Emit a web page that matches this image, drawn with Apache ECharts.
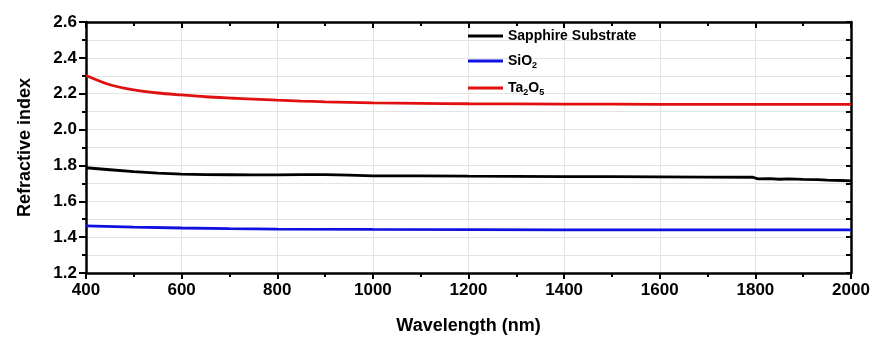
<!DOCTYPE html>
<html>
<head>
<meta charset="utf-8">
<script src="https://cdn.jsdelivr.net/npm/echarts@6/dist/echarts.min.js"></script>
<style>
  html, body { margin: 0; padding: 0; background: #fff; }
  #chart { width: 874px; height: 340px; }
</style>
</head>
<body>
<div id="chart"></div>
<script>
// sapphire substrate (black)
const sapphireWl = [400, 450, 500, 550, 600, 650, 700, 750, 800, 850, 900, 950, 1000, 1050, 1100, 1200, 1300, 1400, 1500, 1600, 1700, 1795, 1805, 1830, 1850, 1870, 1900, 1930, 1950, 1980, 2000];
const sapphireN = [1.787, 1.776, 1.765, 1.757, 1.752, 1.749, 1.748, 1.747, 1.747, 1.749, 1.749, 1.746, 1.742, 1.742, 1.742, 1.740, 1.739, 1.738, 1.737, 1.736, 1.735, 1.734, 1.725, 1.726, 1.723, 1.725, 1.722, 1.721, 1.718, 1.716, 1.714];

// SiO2 (blue)
const sio2Wl = [400, 500, 600, 700, 800, 1000, 1200, 1400, 1600, 1800, 2000];
const sio2N = [1.463, 1.456, 1.451, 1.447, 1.445, 1.443, 1.442, 1.441, 1.441, 1.440, 1.440];

// Ta2O5 (red)
const ta2o5Wl = [400, 450, 500, 550, 600, 650, 700, 750, 800, 850, 900, 1000, 1100, 1200, 1400, 1600, 1800, 2000];
const ta2o5N = [2.302, 2.250, 2.221, 2.204, 2.193, 2.183, 2.176, 2.170, 2.164, 2.159, 2.155, 2.149, 2.146, 2.144, 2.142, 2.141, 2.140, 2.140];

const FONT = "'Liberation Sans', Arial, sans-serif";

const pairs = (xs, ys) => xs.map((x, i) => [x, ys[i]]);

const chartDom = document.getElementById("chart");
const myChart = echarts.init(chartDom, null, { renderer: "canvas" });

const axisLine = { show: true, onZero: false, lineStyle: { color: "#000", width: 2.5 } };
const gridLine = { show: true, lineStyle: { color: "#e4e4e4", width: 1 } };

const option = {
  animation: false,
  backgroundColor: "#fff",
  grid: { left: 86, right: 23, top: 22, bottom: 66 },
  legend: {
    orient: "vertical",
    left: 468,
    top: 29,
    padding: 0,
    itemGap: 11,
    itemWidth: 35,
    itemHeight: 3,
    icon: "rect",
    data: ["Sapphire Substrate", "SiO2", "Ta2O5"],
    formatter: (name) => {
      if (name === "SiO2") return "{b|SiO}{s|2}";
      if (name === "Ta2O5") return "{b|Ta}{s|2}{b|O}{s|5}";
      return "{b|" + name + "}";
    },
    textStyle: {
      rich: {
        b: { fontFamily: FONT, fontWeight: "bold", fontSize: 14, color: "#000" },
        s: { fontFamily: FONT, fontWeight: "bold", fontSize: 9, color: "#000", padding: [9, 0, 0, 0] },
      },
    },
  },
  xAxis: [
    {
      type: "value",
      position: "bottom",
      min: 400,
      max: 2000,
      interval: 200,
      name: "Wavelength (nm)",
      nameLocation: "middle",
      nameGap: 44,
      nameTextStyle: { fontFamily: FONT, fontWeight: "bold", fontSize: 18, color: "#000" },
      axisLine: axisLine,
      axisTick: { show: true, inside: false, length: 6, lineStyle: { color: "#000", width: 2 } },
      minorTick: { show: true, splitNumber: 2, length: 4, lineStyle: { color: "#000", width: 2 } },
      axisLabel: {
        fontFamily: FONT, fontWeight: "bold", fontSize: 17, color: "#000", margin: 9,
        formatter: (v) => String(v),
      },
      splitLine: gridLine,
    },
    {
      type: "value",
      position: "top",
      min: 400,
      max: 2000,
      interval: 200,
      axisLine: axisLine,
      axisTick: { show: true, inside: true, length: 6, lineStyle: { color: "#000", width: 2 } },
      minorTick: { show: true, splitNumber: 2, length: 4, lineStyle: { color: "#000", width: 2 } },
      axisLabel: { show: false },
      splitLine: { show: false },
    },
  ],
  yAxis: [
    {
      type: "value",
      position: "left",
      min: 1.2,
      max: 2.6,
      interval: 0.2,
      name: "Refractive index",
      nameLocation: "middle",
      nameGap: 52,
      nameTextStyle: { fontFamily: FONT, fontWeight: "bold", fontSize: 18, color: "#000" },
      axisLine: axisLine,
      axisTick: { show: true, inside: false, length: 7, lineStyle: { color: "#000", width: 2 } },
      minorTick: { show: true, splitNumber: 2, length: 4, lineStyle: { color: "#000", width: 2 } },
      axisLabel: {
        fontFamily: FONT, fontWeight: "bold", fontSize: 17, color: "#000", margin: 9,
        formatter: (v) => v.toFixed(1),
      },
      splitLine: gridLine,
      minorSplitLine: { show: true, lineStyle: { color: "#e4e4e4", width: 1 } },
    },
    {
      type: "value",
      position: "right",
      min: 1.2,
      max: 2.6,
      interval: 0.2,
      axisLine: axisLine,
      axisTick: { show: true, inside: true, length: 5, lineStyle: { color: "#000", width: 2 } },
      minorTick: { show: true, splitNumber: 2, length: 5, lineStyle: { color: "#000", width: 2 } },
      axisLabel: { show: false },
      splitLine: { show: false },
    },
  ],
  series: [
    {
      name: "Sapphire Substrate",
      type: "line",
      showSymbol: false,
      symbol: "none",
      color: "#000",
      lineStyle: { color: "#000", width: 2.8 },
      data: pairs(sapphireWl, sapphireN),
    },
    {
      name: "SiO2",
      type: "line",
      showSymbol: false,
      symbol: "none",
      color: "#1010e0",
      lineStyle: { color: "#1010e0", width: 2.8 },
      data: pairs(sio2Wl, sio2N),
    },
    {
      name: "Ta2O5",
      type: "line",
      showSymbol: false,
      symbol: "none",
      smooth: 0.3,
      color: "#e01010",
      lineStyle: { color: "#e01010", width: 2.8 },
      data: pairs(ta2o5Wl, ta2o5N),
    },
  ],
};

myChart.setOption(option);
</script>
</body>
</html>
